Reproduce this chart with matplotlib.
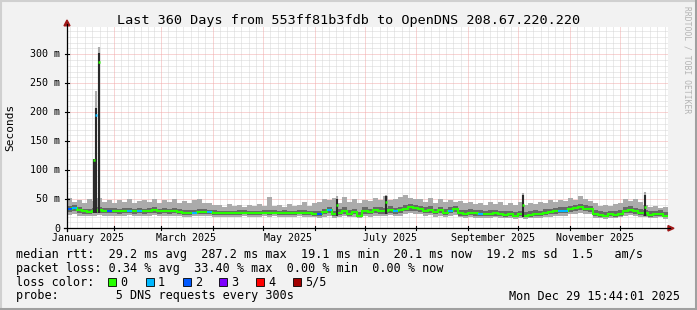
import calendar
from datetime import datetime, timedelta

import numpy as np
import matplotlib
matplotlib.use('Agg')
import matplotlib.pyplot as plt
import matplotlib.dates as mdates
from matplotlib.lines import Line2D
from matplotlib.patches import Polygon, Rectangle
from matplotlib.transforms import offset_copy

# canvas size in pixels (dpi 100)
W, H = 697, 310
MONO = 'DejaVu Sans Mono'

title = 'Last 360 Days from 553ff81b3fdb to OpenDNS 208.67.220.220'
start = datetime(2025, 1, 3, 15, 44, 1)
span_days = 360
bin_days = 3

# smoke + median, one value per 3-day bin (ms)
med = [33, 35, 31, 29, 28, 30, 31, 30, 30, 30,
       29, 30, 30, 29, 30, 29, 30, 31, 29, 30,
       29, 30, 28, 26, 26, 27, 28, 28, 28, 27,
       26, 26, 26, 26, 26, 27, 26, 26, 26, 27,
       26, 27, 26, 26, 26, 26, 27, 26, 26, 25,
       24, 28, 31, 24, 27, 29, 25, 28, 22, 30,
       28, 31, 30, 29, 32, 29, 31, 34, 36, 35,
       33, 30, 32, 28, 31, 27, 30, 33, 26, 25,
       27, 26, 25, 24, 25, 26, 24, 23, 24, 22,
       24, 22, 23, 25, 24, 27, 28, 29, 30, 30,
       33, 35, 36, 34, 33, 25, 23, 22, 24, 23,
       25, 30, 32, 29, 27, 26, 23, 24, 25, 22]
hi = [52, 46, 49, 43, 50, 47, 53, 45, 48, 44,
      49, 45, 50, 44, 47, 49, 46, 50, 44, 48,
      45, 50, 44, 47, 43, 48, 51, 43, 44, 40,
      41, 37, 42, 38, 40, 37, 41, 38, 42, 39,
      54, 38, 41, 37, 42, 38, 41, 46, 38, 43,
      45, 51, 48, 53, 43, 54, 46, 51, 44, 49,
      47, 52, 48, 55, 49, 51, 54, 57, 53, 51,
      50, 46, 53, 44, 51, 45, 49, 46, 47, 43,
      45, 42, 44, 41, 46, 42, 45, 40, 44, 41,
      45, 41, 44, 42, 45, 44, 48, 46, 49, 47,
      52, 49, 55, 50, 47, 43, 39, 41, 38, 42,
      44, 50, 47, 51, 46, 41, 37, 39, 35, 37]
hi_in = [38, 40, 36, 34, 34, 35, 36, 35, 35, 35,
         34, 35, 35, 34, 35, 34, 35, 36, 34, 35,
         34, 35, 33, 31, 31, 32, 33, 33, 32, 31,
         30, 30, 30, 30, 31, 31, 30, 30, 30, 31,
         31, 31, 30, 31, 30, 30, 32, 31, 30, 30,
         30, 34, 37, 30, 33, 36, 31, 34, 28, 36,
         34, 37, 36, 35, 38, 35, 37, 40, 42, 41,
         39, 36, 38, 34, 37, 33, 36, 39, 32, 31,
         33, 32, 31, 30, 31, 32, 30, 29, 30, 28,
         30, 28, 29, 31, 30, 33, 34, 35, 36, 36,
         39, 41, 42, 40, 39, 31, 29, 28, 30, 29,
         31, 36, 38, 35, 33, 32, 29, 30, 31, 28]
lo_in = [28, 30, 27, 25, 24, 26, 27, 26, 26, 26,
         25, 26, 26, 25, 26, 25, 26, 27, 25, 26,
         25, 26, 24, 23, 23, 24, 24, 24, 24, 23,
         23, 23, 23, 23, 23, 24, 23, 23, 23, 24,
         23, 24, 23, 23, 23, 23, 24, 23, 23, 22,
         21, 24, 26, 21, 23, 25, 22, 24, 19, 25,
         24, 26, 25, 25, 27, 25, 26, 29, 30, 30,
         28, 26, 27, 24, 26, 23, 26, 28, 22, 22,
         23, 22, 22, 21, 22, 22, 21, 20, 21, 19,
         21, 19, 20, 22, 21, 23, 24, 25, 26, 26,
         28, 30, 31, 29, 28, 22, 20, 19, 21, 20,
         22, 26, 27, 25, 23, 22, 20, 21, 22, 19]
lo = [23, 25, 22, 21, 21, 22, 23, 22, 22, 22,
      22, 22, 23, 22, 22, 21, 22, 23, 22, 22,
      22, 22, 21, 20, 20, 21, 21, 21, 21, 20,
      20, 20, 20, 20, 20, 21, 20, 20, 20, 21,
      20, 21, 20, 20, 20, 20, 21, 20, 20, 19,
      18, 20, 22, 18, 19, 21, 19, 20, 17, 21,
      20, 22, 21, 21, 23, 21, 22, 24, 26, 25,
      24, 22, 23, 20, 22, 19, 22, 23, 19, 18,
      19, 18, 18, 17, 18, 19, 18, 17, 18, 16,
      18, 16, 17, 18, 18, 19, 20, 21, 22, 22,
      24, 25, 26, 25, 24, 18, 17, 16, 18, 17,
      19, 22, 23, 21, 20, 19, 17, 18, 19, 16]
# loss class of the median per bin (0 = no loss)
loss = [2, 1, 0, 0, 0, 0, 0, 0, 2, 0,
        0, 0, 1, 0, 1, 0, 0, 0, 0, 0,
        0, 0, 0, 0, 0, 1, 0, 0, 1, 0,
        0, 0, 0, 0, 0, 0, 0, 0, 0, 0,
        0, 0, 0, 0, 0, 0, 0, 0, 0, 0,
        2, 0, 1, 0, 0, 0, 0, 0, 0, 0,
        0, 0, 0, 0, 0, 1, 0, 0, 0, 0,
        0, 0, 0, 0, 0, 0, 1, 0, 0, 0,
        0, 0, 1, 0, 0, 0, 0, 0, 0, 0,
        0, 0, 0, 0, 0, 0, 0, 0, 1, 1,
        0, 0, 0, 0, 0, 0, 0, 0, 0, 0,
        0, 0, 0, 0, 0, 0, 0, 0, 0, 0]

# short single-sample excursions
spike_times = ['2025-01-19 13:00', '2025-01-21 01:00', '2025-01-22 20:30',
               '2025-06-14 11:00', '2025-07-13 12:00', '2025-10-04 01:00',
               '2025-12-15 23:00']
spike_med = [117, 195, 287, 40, 45, 40, 37]
spike_hi_in = [119, 207, 303, 50, 55, 57, 58]
spike_hi = [119, 236, 312, 55, 58, 60, 62]
spike_loss = [0, 1, 0, 0, 0, 0, 0]

loss_labels = ['0', '1', '2', '3', '4', '5/5']
loss_colors = ['#26ff00', '#00b8ff', '#0059ff', '#7e00ff', '#ff0000', '#a10000']

yticks = [0, 50, 100, 150, 200, 250, 300]
ytick_labels = ['0', '50 m', '100 m', '150 m', '200 m', '250 m', '300 m']
label_months = [1, 3, 5, 7, 9, 11]

legend_rtt = 'median rtt:  29.2 ms avg  287.2 ms max  19.1 ms min  20.1 ms now  19.2 ms sd  1.5   am/s'
legend_loss = 'packet loss: 0.34 % avg  33.40 % max  0.00 % min  0.00 % now'
legend_color = 'loss color:'
legend_probe = 'probe:        5 DNS requests every 300s'
stamp = 'Mon Dec 29 15:44:01 2025'
watermark = 'RRDTOOL / TOBI OETIKER'


def fx(px):
    return px / W


def fy(py):
    return 1 - py / H


# plot box in pixels
X0, X1, Y0, Y1 = 67, 668, 228.3, 27
YMAX = 347

fig = plt.figure(figsize=(W / 100, H / 100), dpi=100, facecolor='#F2F2F2')
ax = fig.add_axes([fx(X0), fy(Y0), (X1 - X0) / W, (Y0 - Y1) / H])
ax.set_facecolor('white')
for s in ax.spines.values():
    s.set_visible(False)
ax.set_xticks([])
ax.set_yticks([])

t0 = mdates.date2num(start)
t1 = t0 + span_days
ax.set_xlim(t0, t1)
ax.set_ylim(0, YMAX)

# grid
minor_kw = dict(color='#D6D6D6', lw=0.72, ls=(0, (1, 1)), zorder=1)
major_kw = dict(color='#F3AAAA', lw=0.72, ls=(0, (1, 1)), zorder=1)
for v in range(10, YMAX, 10):
    if v % 50:
        ax.axhline(v, **minor_kw)
month_starts = []
for m in range(1, 13):
    ms = mdates.date2num(datetime(2025, m, 1))
    ml = calendar.monthrange(2025, m)[1]
    for k in range(1, 7):
        tm = ms + k * ml / 7
        if t0 < tm < t1:
            ax.axvline(tm, **minor_kw)
    if t0 < ms < t1:
        month_starts.append(ms)
for v in yticks[1:]:
    ax.axhline(v, **major_kw)
for ms in month_starts:
    ax.axvline(ms, **major_kw)

# smoke and median
edges = t0 + bin_days * np.arange(len(med) + 1)
ax.stairs(hi, edges, baseline=lo, fill=True, color='#ABABAB', lw=0, zorder=2)
ax.stairs(hi_in, edges, baseline=lo_in, fill=True, color='#686868', lw=0, zorder=3)
ax.stairs(med, edges, baseline=None, color=loss_colors[0], lw=1.5, zorder=4)
for i, l in enumerate(loss):
    if l:
        ax.hlines(med[i], edges[i], edges[i + 1], color=loss_colors[l], lw=1.5, zorder=5)

for ts, m, hin, h, l in zip(spike_times, spike_med, spike_hi_in, spike_hi, spike_loss):
    t = mdates.date2num(datetime.strptime(ts, '%Y-%m-%d %H:%M'))
    base = lo_in[int((t - t0) // bin_days)]
    ax.vlines(t, base, h, color='#ABABAB', lw=1.5, zorder=6)
    ax.vlines(t, base, hin, color='#2A2A2A', lw=1.5, zorder=6)
    ax.hlines(m, t - 0.6, t + 0.6, color=loss_colors[l], lw=1.8, zorder=7)

# axis lines, arrows and small ticks
fig.add_artist(Line2D([fx(64), fx(670)], [fy(Y0), fy(Y0)], color='black', lw=0.9))
fig.add_artist(Line2D([fx(X0), fx(X0)], [fy(231), fy(24)], color='black', lw=0.9))
fig.add_artist(Polygon([[fx(668), fy(225.6)], [fx(668), fy(231)], [fx(674), fy(228.3)]],
                       closed=True, color='#A01818'))
fig.add_artist(Polygon([[fx(64), fy(25.8)], [fx(70), fy(25.8)], [fx(67), fy(20)]],
                       closed=True, color='#A01818'))
tick = 2 / (Y0 - Y1)
for ms in month_starts:
    ax.plot([ms, ms], [-tick, tick], color='black', lw=0.8,
            transform=ax.get_xaxis_transform(), clip_on=False)
tickx = 2 / (X1 - X0)
for v in yticks[1:]:
    ax.plot([-tickx, tickx], [v, v], color='black', lw=0.8,
            transform=ax.get_yaxis_transform(), clip_on=False)

# tick labels
ylab_tr = offset_copy(ax.get_yaxis_transform(), fig=fig, x=0, y=-3.2, units='dots')
for v, lab in zip(yticks, ytick_labels):
    ax.text((60 - X0) / (X1 - X0), v, lab, transform=ylab_tr, ha='right', va='baseline',
            family=MONO, fontsize=7.2, color='black')
for m, lab in zip(label_months, ['January 2025', 'March 2025', 'May 2025', 'July 2025',
                                 'September 2025', 'November 2025']):
    tm = mdates.date2num(datetime(2025, m, 1) + timedelta(days=15))
    ax.text(tm, -(240.7 - Y0) / (Y0 - Y1), lab, transform=ax.get_xaxis_transform(),
            ha='center', va='baseline', family=MONO, fontsize=7.2, color='black')

# titles
fig.text(0.5, fy(24), title, ha='center', va='baseline', family=MONO, fontsize=9.7)
fig.text(fx(10), fy(127), 'Seconds', rotation=90, ha='center', va='center',
         family=MONO, fontsize=8)
fig.text(fx(687), fy(60), watermark, rotation=270, ha='center', va='center',
         family=MONO, fontsize=5.8, color='#B4B4B4')

# legend
fs = 8.45
fig.text(fx(16), fy(257.7), legend_rtt, family=MONO, fontsize=fs, va='baseline')
fig.text(fx(16), fy(271.7), legend_loss, family=MONO, fontsize=fs, va='baseline')
fig.text(fx(16), fy(285.7), legend_color, family=MONO, fontsize=fs, va='baseline')
fig.text(fx(16), fy(299.5), legend_probe, family=MONO, fontsize=fs, va='baseline')
fig.text(fx(680), fy(299.5), stamp, family=MONO, fontsize=fs, va='baseline', ha='right')
box_x = [108.3, 145.7, 182.7, 219.3, 256, 293.3]
for bx, lab, col in zip(box_x, loss_labels, loss_colors):
    fig.add_artist(Rectangle((fx(bx), fy(285.7)), 8 / W, 8 / H, facecolor=col,
                             edgecolor='black', lw=0.6))
    fig.text(fx(bx + 12), fy(285.7), lab, family=MONO, fontsize=fs, va='baseline')

# 3d border
fig.add_artist(Line2D([0, 1], [fy(1), fy(1)], color='#D0D0D0', lw=1.5))
fig.add_artist(Line2D([fx(1), fx(1)], [0, 1], color='#D0D0D0', lw=1.5))
fig.add_artist(Line2D([0, 1], [fy(308.5), fy(308.5)], color='#A0A0A0', lw=2.2))
fig.add_artist(Line2D([fx(695.5), fx(695.5)], [0, 1], color='#A0A0A0', lw=2.2))

fig.savefig('out.png', dpi=100, facecolor=fig.get_facecolor())
